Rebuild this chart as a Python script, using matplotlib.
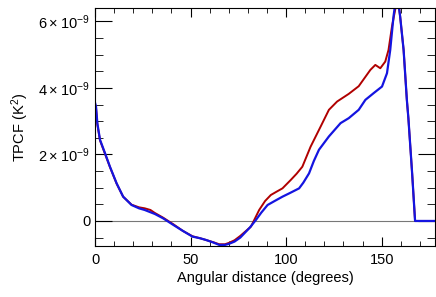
import matplotlib
matplotlib.use("Agg")
import matplotlib.pyplot as plt
from matplotlib.ticker import MultipleLocator, FuncFormatter

plt.rcParams['font.family'] = ['Liberation Sans', 'DejaVu Sans']
plt.rcParams['mathtext.default'] = 'regular'

# angular distance (degrees) and TPCF values (units of 1e-9 K^2)
blue_x = [0, 0.5, 1.2, 2.6, 5.2, 7.8, 11.3, 14.7, 19.1, 23, 26, 31.3, 35.6, 41, 46,
          51, 55, 58, 62, 65, 68, 70, 73, 76, 79, 81, 84.2, 87, 90.3, 94, 98.1, 102,
          106.8, 109, 112, 114.5, 117.2, 122.4, 128.5, 132.8, 138, 141.5, 146, 150.2,
          152.8, 154.5, 156.2, 158, 159.7, 161.5, 163.2, 164, 166, 167.5, 170, 175, 178]
blue_y = [3.55, 3.44, 2.94, 2.44, 2.04, 1.63, 1.13, 0.73, 0.48, 0.38, 0.33, 0.21,
          0.08, -0.12, -0.3, -0.47, -0.52, -0.57, -0.65, -0.72, -0.72, -0.69, -0.62,
          -0.5, -0.32, -0.2, 0.03, 0.25, 0.48, 0.6, 0.73, 0.84, 0.98, 1.15, 1.43, 1.8,
          2.14, 2.54, 2.94, 3.09, 3.34, 3.64, 3.85, 4.04, 4.44, 5.14, 6.14, 6.9, 6.14,
          5.14, 3.64, 3.09, 1.4, 0.0, 0.0, 0.0, 0.0]

red_x = [0, 0.5, 1.2, 2.6, 5.2, 7.8, 11.3, 14.7, 19.1, 23, 26, 29, 31.3, 35.6, 41,
         46, 51, 55, 58, 62, 65, 68, 70, 73, 76, 79, 81.6, 85.9, 89, 92, 95, 98.1,
         102.4, 105.5, 108.5, 112.8, 118.1, 122.4, 126.7, 132.8, 138, 144.1, 146.7,
         149.3, 151.9, 153.6, 155.4, 157.1, 158, 159.7, 161.5, 163.2, 164, 166, 167.5,
         170, 175, 178]
red_y = [3.5, 3.4, 2.9, 2.42, 2.02, 1.62, 1.12, 0.73, 0.49, 0.41, 0.38, 0.33, 0.24,
         0.1, -0.1, -0.3, -0.46, -0.52, -0.57, -0.64, -0.7, -0.7, -0.66, -0.58, -0.45,
         -0.3, -0.17, 0.33, 0.6, 0.78, 0.88, 0.98, 1.23, 1.42, 1.63, 2.23, 2.84, 3.34,
         3.59, 3.82, 4.05, 4.54, 4.69, 4.59, 4.79, 5.14, 5.84, 6.35, 6.9, 6.14, 5.14,
         3.64, 3.09, 1.4, 0.0, 0.0, 0.0, 0.0]

fig = plt.figure(figsize=(4.36, 2.97), dpi=100)
ax = fig.add_axes([0.218, 0.172, 0.78, 0.801])

ax.axhline(0, color='#777777', lw=0.8, zorder=1)
ax.plot(red_x, [v * 1e-9 for v in red_y], color='#b00000', lw=1.4)
ax.plot(blue_x, [v * 1e-9 for v in blue_y], color='#1414e0', lw=1.6)

ax.set_xlim(0, 178)
ax.set_ylim(-0.75e-9, 6.4e-9)

ax.xaxis.set_major_locator(MultipleLocator(50))
ax.xaxis.set_minor_locator(MultipleLocator(10))
ax.yaxis.set_major_locator(MultipleLocator(2e-9))
ax.yaxis.set_minor_locator(MultipleLocator(0.5e-9))


def ylab(v, pos):
    n = int(round(v / 1e-9))
    if n == 0:
        return '0'
    return r'$%d\times10^{-9}$' % n


ax.yaxis.set_major_formatter(FuncFormatter(ylab))
ax.tick_params(axis='both', which='both', direction='in', top=True, right=True,
               labelsize=10.5, color='black')
ax.tick_params(axis='x', which='major', length=6.5, pad=5)
ax.tick_params(axis='x', which='minor', length=3.5)
ax.tick_params(axis='y', which='major', length=12)
ax.tick_params(axis='y', which='minor', length=6)

ax.set_xlabel('Angular distance (degrees)', fontsize=10.5, labelpad=3)
ax.set_ylabel(r'TPCF (K$^2$)', fontsize=10.5, labelpad=5)

fig.savefig('out.png', dpi=100)
